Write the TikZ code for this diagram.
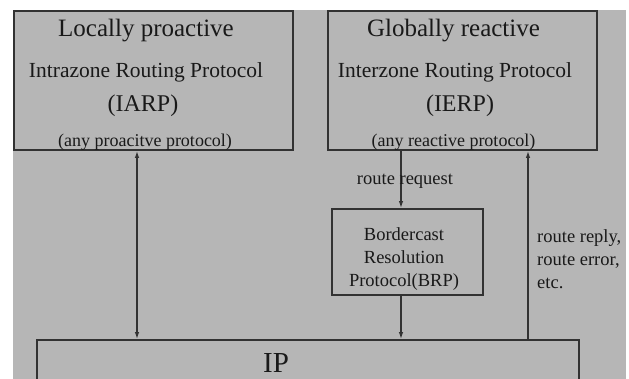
\documentclass[tikz,border=0pt]{standalone}
\usepackage{fontspec}
\setmainfont{Liberation Serif}
\usepackage{tikz}
\usetikzlibrary{arrows.meta}

\definecolor{panelgray}{RGB}{182,182,182}
\definecolor{linegray}{RGB}{50,50,50}
\definecolor{inkgray}{RGB}{25,25,25}

\begin{document}
\begin{tikzpicture}[
    x=1pt, y=-1pt,
    box/.style={draw=linegray, line width=1.8pt, inner sep=0pt},
    lbl/.style={inner sep=0pt, anchor=base, text=inkgray},
    head/.style={lbl, font=\fontsize{25}{30}\selectfont},
    pname/.style={lbl, font=\fontsize{21.5}{26}\selectfont},
    abbr/.style={lbl, font=\fontsize{24}{28}\selectfont},
    note/.style={lbl, font=\fontsize{18}{22}\selectfont},
    small/.style={inner sep=0pt, text=inkgray, font=\fontsize{18.5}{23}\selectfont},
    link/.style={-{Latex[length=7pt,width=4.5pt]}, draw=linegray, line width=1.3pt}
]
\useasboundingbox (0,0) rectangle (629,379);
\clip (0,0) rectangle (629,379);
\fill[panelgray] (13,10) rectangle (626,379);

% protocol boxes
\node[box, minimum width=279pt, minimum height=139pt] (iarp) at (153.5,80.5) {};
\node[box, minimum width=269pt, minimum height=139pt] (ierp) at (462.5,80.5) {};
\node[box, minimum width=151pt, minimum height=86pt] (brp) at (407.5,252) {};
\node[box, minimum width=542pt, minimum height=100pt] (ip) at (308,390) {};

% left box text
\node[head] (iarphead) at (146,37) {Locally proactive};
\node[pname] (iarpname) at (146,78) {Intrazone Routing Protocol};
\node[abbr] (iarpabbr) at (143,112) {(IARP)};
\node[note] (iarpnote) at (145,146.5) {(any proacitve protocol)};

% right box text
\node[head] (ierphead) at (453.5,37) {Globally reactive};
\node[pname] (ierpname) at (455,78) {Interzone Routing Protocol};
\node[abbr] (ierpabbr) at (460,112) {(IERP)};
\node[note] (ierpnote) at (453.5,146.5) {(any reactive protocol)};

\node[small, align=center, anchor=north] (brptext) at (404,227) {Bordercast\\Resolution\\Protocol(BRP)};
\node[lbl, font=\fontsize{29}{34}\selectfont] (iptext) at (276,372) {IP};

% connectors
\coordinate (colA) at (137,0);
\coordinate (colB) at (401,0);
\coordinate (colC) at (528,0);
\draw[link, {Latex[length=7pt,width=4.5pt]}-{Latex[length=7pt,width=4.5pt]}] (iarp.south -| colA) -- (ip.north -| colA);
\draw[link] (ierp.south -| colB) -- (brp.north -| colB);
\draw[link] (brp.south -| colB) -- (ip.north -| colB);
\draw[link] (ip.north -| colC) -- (ierp.south -| colC);

\node[small, anchor=base] (reqlbl) at (405,185) {route request};
\node[small, align=left, anchor=north west] (replylbl) at (537,229) {route reply,\\route error,\\etc.};
\end{tikzpicture}
\end{document}
